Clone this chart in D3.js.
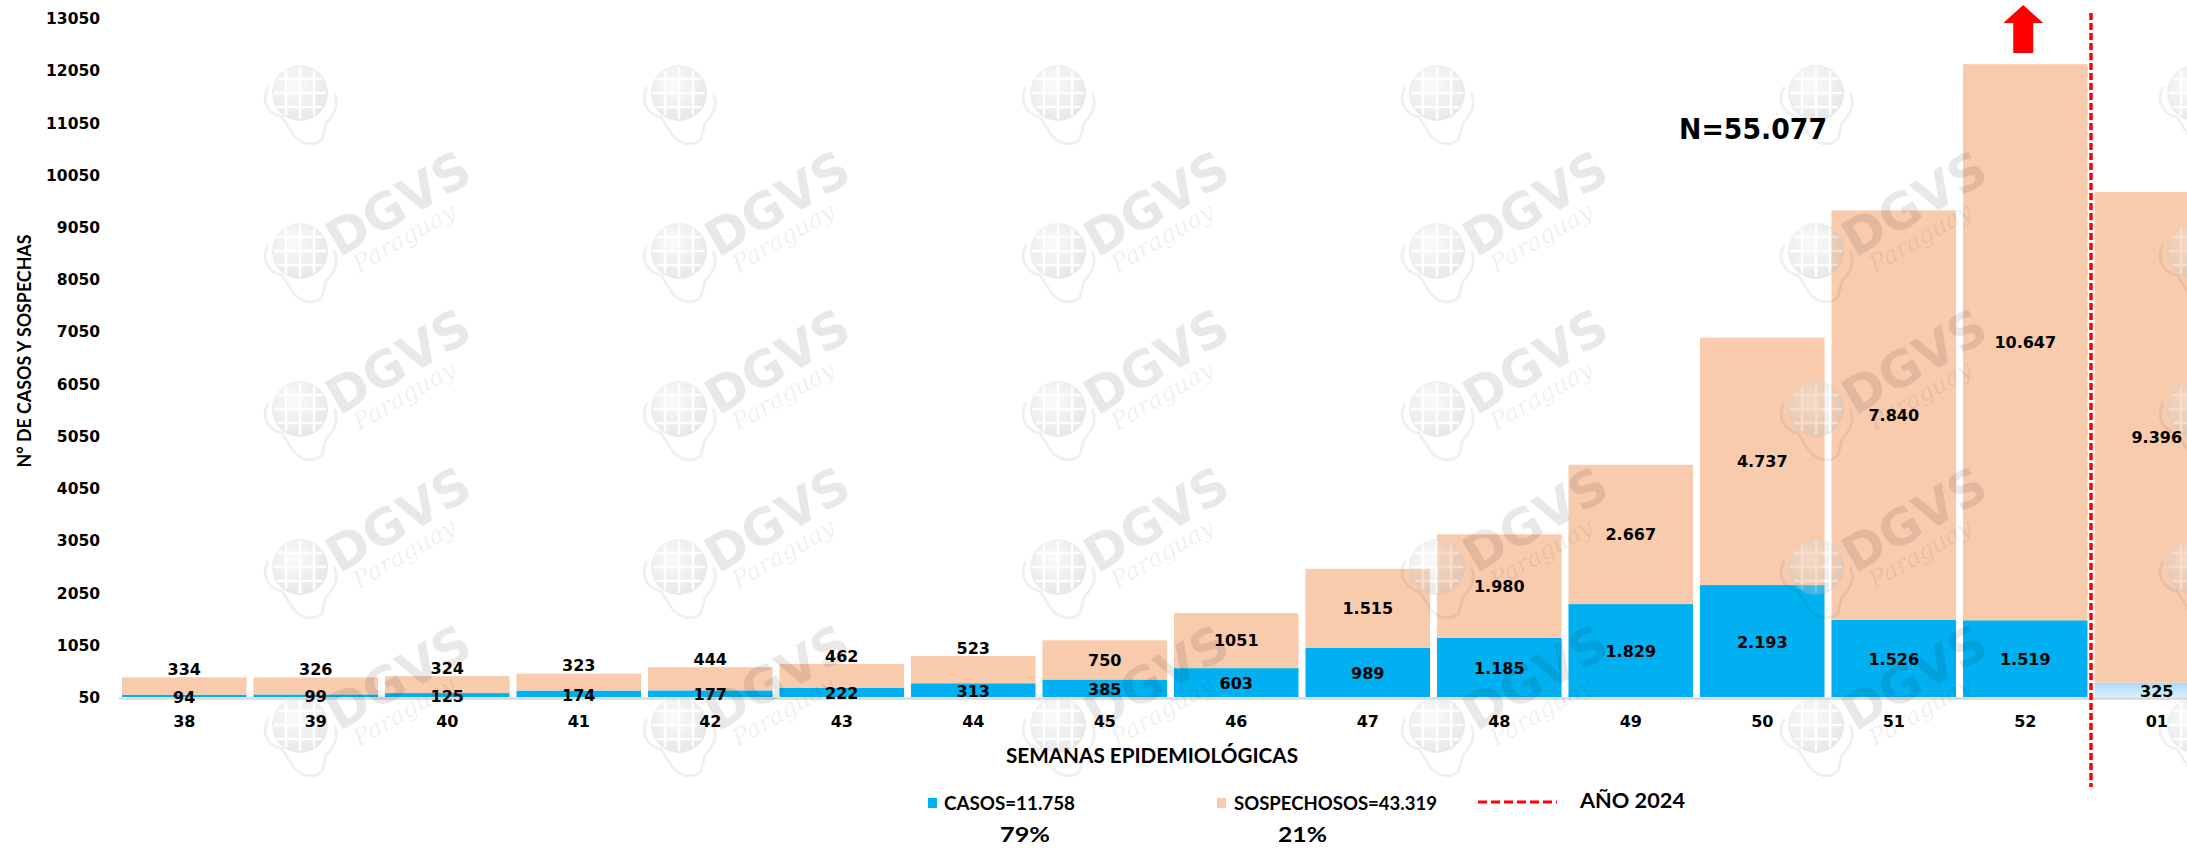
<!DOCTYPE html>
<html>
<head>
<meta charset="utf-8">
<script src="https://cdn.jsdelivr.net/npm/d3@7"></script>
<style>
  html, body { margin: 0; padding: 0; background: #ffffff; }
  svg { display: block; }
</style>
</head>
<body>
<script>
// ---------------- DATA ----------------
const weeks = ["38","39","40","41","42","43","44","45","46","47","48","49","50","51","52","01"];
const casos = [94, 99, 125, 174, 177, 222, 313, 385, 603, 989, 1185, 1829, 2193, 1526, 1519, 325];
const sospechosos = [334, 326, 324, 323, 444, 462, 523, 750, 1051, 1515, 1980, 2667, 4737, 7840, 10647, 9396];
const casosText = ["94","99","125","174","177","222","313","385","603","989","1.185","1.829","2.193","1.526","1.519","325"];
const sospText = ["334","326","324","323","444","462","523","750","1051","1.515","1.980","2.667","4.737","7.840","10.647","9.396"];
const yTicks = [50, 1050, 2050, 3050, 4050, 5050, 6050, 7050, 8050, 9050, 10050, 11050, 12050, 13050];
const legendLabels = ["CASOS=11.758", "SOSPECHOSOS=43.319", "AÑO 2024"];
const percentLabels = ["79%", "21%"];
const totalLabel = "N=55.077";
const yearBreakAfter = "52";
const yAxisTitle = "N° DE CASOS Y SOSPECHAS";
const xAxisTitle = "SEMANAS EPIDEMIOLÓGICAS";

// ---------------- STYLE ----------------
const W = 2187, H = 848;
const BLUE = "#00B0F0", PEACH = "#F8CBAD", RED = "#FF0000";
const NUM_FONT = "'DejaVu Sans', Verdana, sans-serif";
const CAL_FONT = "Lato, 'Liberation Sans', sans-serif";

const svg = d3.select("body").append("svg").attr("width", W).attr("height", H);
svg.append("rect").attr("width", W).attr("height", H).attr("fill", "#ffffff");

const defs = svg.append("defs");
const lg = defs.append("linearGradient").attr("id", "lightBlue").attr("x1", 0).attr("y1", 0).attr("x2", 0).attr("y2", 1);
lg.append("stop").attr("offset", "0%").attr("stop-color", "#a9dbf8");
lg.append("stop").attr("offset", "100%").attr("stop-color", "#d9eefc");
const rg = defs.append("radialGradient").attr("id", "globe").attr("cx", "40%").attr("cy", "35%").attr("r", "65%");
rg.append("stop").attr("offset", "0%").attr("stop-color", "#f2f2f2");
rg.append("stop").attr("offset", "100%").attr("stop-color", "#bdbdbd");

// ---------------- SCALES ----------------
const x = d3.scaleBand().domain(weeks).range([118.5, 2222.5]).paddingInner(0.053).paddingOuter(0.0265);
const y = d3.scaleLinear().domain([50, 13050]).range([697, 18]);
const bw = x.bandwidth();

const rows = weeks.map((w, i) => ({
  w, i, c: casos[i], s: sospechosos[i], ct: casosText[i], st: sospText[i],
  after: weeks.indexOf(w) > weeks.indexOf(yearBreakAfter)
}));

// ---------------- Y AXIS ----------------
const yAxis = d3.axisLeft(y).tickValues(yTicks).tickFormat(d3.format("d")).tickSize(0).tickPadding(0);
const gy = svg.append("g").attr("transform", "translate(100,0)").call(yAxis);
gy.select(".domain").remove();
gy.selectAll("text").attr("font-family", NUM_FONT).attr("font-weight", "bold")
  .attr("font-size", "15.5px").attr("fill", "#000").attr("dy", "0.36em");

svg.append("text")
  .attr("transform", "translate(24,351) rotate(-90)")
  .attr("text-anchor", "middle").attr("dy", "0.36em")
  .attr("font-family", CAL_FONT).attr("font-weight", "bold").attr("font-size", "19px")
  .attr("textLength", 233).attr("lengthAdjust", "spacingAndGlyphs")
  .text(yAxisTitle);

// ---------------- BARS ----------------
const bars = svg.append("g");
bars.selectAll("rect.casos").data(rows).join("rect").attr("class", "casos")
  .attr("x", d => x(d.w)).attr("width", bw)
  .attr("y", d => y(d.c)).attr("height", d => y(50) - y(d.c))
  .attr("fill", d => d.after ? "url(#lightBlue)" : BLUE);
bars.selectAll("rect.sosp").data(rows).join("rect").attr("class", "sosp")
  .attr("x", d => x(d.w)).attr("width", bw)
  .attr("y", d => y(d.c + d.s)).attr("height", d => y(d.c) - y(d.c + d.s))
  .attr("fill", PEACH);

// baseline
svg.append("line").attr("x1", 119).attr("x2", W).attr("y1", 698.5).attr("y2", 698.5)
  .attr("stroke", "#d9d9d9").attr("stroke-width", 2.5);

// ---------------- WATERMARK (faint logo pattern) ----------------
const wm = svg.append("g").attr("pointer-events", "none");
function drawGlobe(g) {
  g.append("path")
    .attr("d", "M-32,-6 C-40,10 -30,22 -18,24 L-8,40 C0,52 14,54 22,46 L26,30 C34,22 40,12 34,0")
    .attr("fill", "none").attr("stroke", "#000").attr("stroke-opacity", 0.06).attr("stroke-width", 3);
  const globe = g.append("g").attr("opacity", 0.35);
  globe.append("circle").attr("r", 28).attr("fill", "url(#globe)");
  [-14, 0, 14].forEach(o => {
    const h = Math.sqrt(28 * 28 - o * o) - 2;
    globe.append("line").attr("x1", o).attr("x2", o).attr("y1", -h).attr("y2", h)
      .attr("stroke", "#fff").attr("stroke-width", 2.5);
    globe.append("line").attr("y1", o).attr("y2", o).attr("x1", -h).attr("x2", h)
      .attr("stroke", "#fff").attr("stroke-width", 2.5);
  });
}
for (let k = 0; k <= 5; k++) {
  for (let j = 0; j <= 4; j++) {
    const gx = 300 + k * 379, gyy = 93 + j * 158;
    const g = wm.append("g").attr("transform", `translate(${gx},${gyy})`);
    drawGlobe(g);
    if (k <= 4 && j >= 1) {
      g.append("text").attr("transform", "translate(98,-48) rotate(-30)")
        .attr("text-anchor", "middle").attr("dy", "0.36em")
        .attr("font-family", "'DejaVu Sans', sans-serif").attr("font-weight", "bold")
        .attr("font-size", "50px").attr("fill", "#000").attr("fill-opacity", 0.09)
        .text("DGVS");
      g.append("text").attr("transform", "translate(104,-14) rotate(-30)")
        .attr("text-anchor", "middle").attr("dy", "0.36em")
        .attr("font-family", "'DejaVu Serif', serif").attr("font-style", "italic")
        .attr("font-size", "24px").attr("fill", "#000").attr("fill-opacity", 0.07)
        .text("Paraguay");
    }
  }
}

// ---------------- LABELS ----------------
const lab = svg.append("g").attr("font-family", NUM_FONT).attr("font-weight", "bold")
  .attr("font-size", "16px").attr("fill", "#000").attr("text-anchor", "middle");
lab.selectAll("text.cl").data(rows).join("text").attr("class", "cl")
  .attr("x", d => x(d.w) + bw / 2)
  .attr("y", d => (y(50) + y(d.c)) / 2 + 1)
  .attr("dy", "0.36em").text(d => d.ct);
lab.selectAll("text.sl").data(rows).join("text").attr("class", "sl")
  .attr("x", d => x(d.w) + bw / 2)
  .attr("y", d => {
    const top = y(d.c + d.s), bot = y(d.c);
    return (bot - top) < 30 ? top - 8 : (top + bot) / 2;
  })
  .attr("dy", "0.36em").text(d => d.st);

// category labels
const xAxis = d3.axisBottom(x).tickSize(0).tickPadding(0);
const gx = svg.append("g").attr("transform", "translate(0,721)").call(xAxis);
gx.select(".domain").remove();
gx.selectAll("text").attr("font-family", NUM_FONT).attr("font-weight", "bold")
  .attr("font-size", "16px").attr("fill", "#000").attr("dy", "0.36em").attr("y", 0);

svg.append("text").attr("x", 1152).attr("y", 756).attr("text-anchor", "middle").attr("dy", "0.36em")
  .attr("font-family", CAL_FONT).attr("font-weight", "bold").attr("font-size", "20px")
  .attr("textLength", 292).attr("lengthAdjust", "spacingAndGlyphs")
  .text(xAxisTitle);

// ---------------- YEAR BREAK LINE + ARROW + N ----------------
const breakX = x(weeks[weeks.indexOf(yearBreakAfter) + 1]) - x.step() * x.paddingInner() / 2;
svg.append("line").attr("x1", breakX).attr("x2", breakX).attr("y1", 13).attr("y2", 787)
  .attr("stroke", RED).attr("stroke-width", 3.5).attr("stroke-dasharray", "7,3");

const ax = x(yearBreakAfter) + bw / 2 - 2;
svg.append("polygon")
  .attr("points", [[ax, 5], [ax - 20, 23], [ax - 10, 23], [ax - 10, 53], [ax + 10, 53], [ax + 10, 23], [ax + 20, 23]].map(p => p.join(",")).join(" "))
  .attr("fill", RED);

svg.append("text").attr("x", 1679).attr("y", 129).attr("dy", "0.36em")
  .attr("font-family", NUM_FONT).attr("font-weight", "bold").attr("font-size", "29px")
  .attr("textLength", 148).attr("lengthAdjust", "spacingAndGlyphs")
  .text(totalLabel);

// ---------------- LEGEND ----------------
const leg = svg.append("g").attr("font-family", CAL_FONT).attr("font-weight", "bold").attr("fill", "#000");
leg.append("rect").attr("x", 928).attr("y", 798).attr("width", 9).attr("height", 10).attr("fill", BLUE);
leg.append("text").attr("x", 944).attr("y", 803).attr("dy", "0.36em").attr("font-size", "19px")
  .attr("textLength", 131).attr("lengthAdjust", "spacingAndGlyphs").text(legendLabels[0]);
leg.append("rect").attr("x", 1217).attr("y", 798).attr("width", 9).attr("height", 10).attr("fill", PEACH);
leg.append("text").attr("x", 1234).attr("y", 803).attr("dy", "0.36em").attr("font-size", "19px")
  .attr("textLength", 203).attr("lengthAdjust", "spacingAndGlyphs").text(legendLabels[1]);
leg.append("line").attr("x1", 1478).attr("x2", 1557).attr("y1", 802).attr("y2", 802)
  .attr("stroke", RED).attr("stroke-width", 3).attr("stroke-dasharray", "9,4");
leg.append("text").attr("x", 1580).attr("y", 801).attr("dy", "0.36em").attr("font-size", "20px")
  .attr("textLength", 105).attr("lengthAdjust", "spacingAndGlyphs").text(legendLabels[2]);

leg.append("text").attr("x", 1000).attr("y", 835).attr("dy", "0.36em").attr("font-size", "20px")
  .attr("textLength", 50).attr("lengthAdjust", "spacingAndGlyphs").text(percentLabels[0]);
leg.append("text").attr("x", 1278).attr("y", 835).attr("dy", "0.36em").attr("font-size", "20px")
  .attr("textLength", 49).attr("lengthAdjust", "spacingAndGlyphs").text(percentLabels[1]);
</script>
</body>
</html>
